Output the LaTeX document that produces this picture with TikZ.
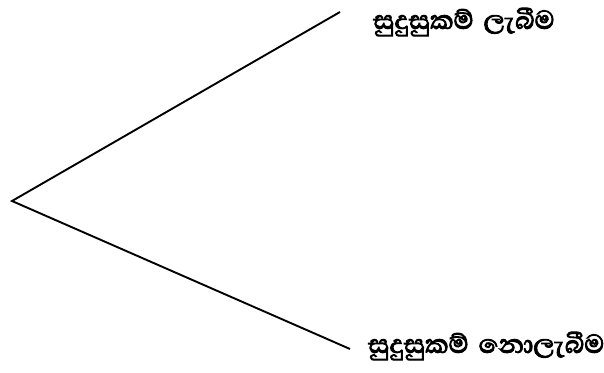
\documentclass[tikz,border=0pt]{standalone}
\usepackage{fontspec}
\newfontfamily\sinhala[Script=Sinhala,FakeBold=3,WordSpace=1.6]{Abhaya Libre}
\begin{document}
\begin{tikzpicture}[x=1pt,y=1pt,
  lbl/.style={font=\sinhala\fontsize{33}{36}\selectfont, anchor=west, inner sep=0pt},
  ln/.style={line width=1.9pt, black}]
\useasboundingbox (0,0) rectangle (604,372);
\coordinate (v) at (12,171);
\coordinate (t) at (340,360);
\coordinate (b) at (350,23);
\draw[ln] (t) -- (v) -- (b);
\node[lbl] (top) at (373,350) {සුදුසුකම් ලැබීම};
\node[lbl] (bot) at (368,26) {සුදුසුකම් නොලැබීම};
\end{tikzpicture}
\end{document}
